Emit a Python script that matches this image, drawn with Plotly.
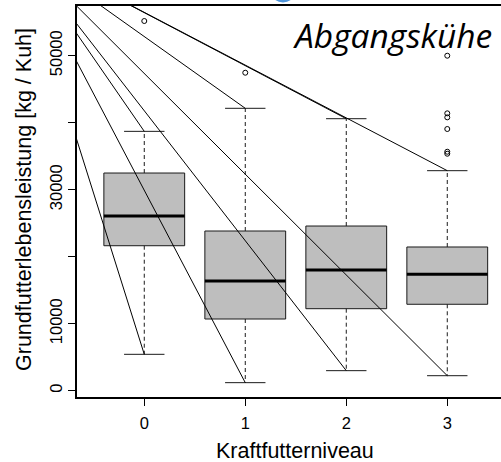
import plotly.graph_objects as go

# Boxplot statistics per concentrate level (kg forage lifetime yield per cow)
levels = [0, 1, 2, 3]
level_labels = ["0", "1", "2", "3"]
q1 = [21640, 10700, 12240, 12900]
median = [26070, 16370, 18010, 17370]
q3 = [32490, 23835, 24580, 21450]
whisker_low = [5430, 1200, 2990, 2240]
whisker_high = [38710, 42150, 40600, 32840]

# Points beyond the whiskers
outlier_x = [0, 1, 3, 3, 3, 3, 3, 3]
outlier_y = [55180, 47460, 50000, 41400, 40800, 39060, 35670, 35370]

# Common origin of the guide lines drawn to every whisker end
apex_x = -1.275
apex_y = 66520

y_tickvals = [0, 10000, 20000, 30000, 40000, 50000]
y_ticktext = ["0", "10000", "", "30000", "", "50000"]

BOX_HALF = 0.4
CAP_HALF = 0.2
AXIS_FONT = "Liberation Sans, Arial, sans-serif"

fig = go.Figure()

# Boxes (Q1..Q3)
for x, lo, hi in zip(levels, q1, q3):
    fig.add_trace(go.Scatter(
        x=[x - BOX_HALF, x + BOX_HALF, x + BOX_HALF, x - BOX_HALF, x - BOX_HALF],
        y=[lo, lo, hi, hi, lo],
        mode="lines", fill="toself", fillcolor="#BEBEBE",
        line=dict(color="#1a1a1a", width=1), hoverinfo="skip", showlegend=False))

# Dashed whiskers
wx, wy = [], []
for x, lo, hi, wl, wh in zip(levels, q1, q3, whisker_low, whisker_high):
    wx += [x, x, None, x, x, None]
    wy += [hi, wh, None, lo, wl, None]
fig.add_trace(go.Scatter(x=wx, y=wy, mode="lines",
                         line=dict(color="#1a1a1a", width=1, dash="4px,3px"),
                         hoverinfo="skip", showlegend=False))

# Whisker caps
cx, cy = [], []
for x, wl, wh in zip(levels, whisker_low, whisker_high):
    cx += [x - CAP_HALF, x + CAP_HALF, None, x - CAP_HALF, x + CAP_HALF, None]
    cy += [wh, wh, None, wl, wl, None]
fig.add_trace(go.Scatter(x=cx, y=cy, mode="lines",
                         line=dict(color="#1a1a1a", width=1),
                         hoverinfo="skip", showlegend=False))

# Medians
mx, my = [], []
for x, m in zip(levels, median):
    mx += [x - BOX_HALF, x + BOX_HALF, None]
    my += [m, m, None]
fig.add_trace(go.Scatter(x=mx, y=my, mode="lines",
                         line=dict(color="black", width=3),
                         hoverinfo="skip", showlegend=False))

# Outliers
fig.add_trace(go.Scatter(x=outlier_x, y=outlier_y, mode="markers",
                         marker=dict(symbol="circle-open", size=5,
                                     color="black", line=dict(width=1)),
                         hoverinfo="skip", showlegend=False))

# Guide lines from the common origin to each whisker end
gx, gy = [], []
for x, wl, wh in zip(levels, whisker_low, whisker_high):
    gx += [apex_x, x, None, apex_x, x, None]
    gy += [apex_y, wl, None, apex_y, wh, None]
fig.add_trace(go.Scatter(x=gx, y=gy, mode="lines",
                         line=dict(color="black", width=1),
                         hoverinfo="skip", showlegend=False))

fig.update_layout(
    width=501, height=462,
    margin=dict(l=77, r=0, t=6, b=65, pad=0),
    paper_bgcolor="white", plot_bgcolor="white",
    font=dict(family=AXIS_FONT, color="black"),
    xaxis=dict(range=[-0.666, 3.532], tickvals=levels, ticktext=level_labels,
               ticks="outside", ticklen=7, tickcolor="black", tickwidth=1,
               ticklabelstandoff=3,
               showline=True, linecolor="black", linewidth=1.5, mirror=True,
               showgrid=False, zeroline=False,
               tickfont=dict(size=16.5, family=AXIS_FONT, color="black")),
    yaxis=dict(range=[-940, 57420], tickvals=y_tickvals, ticktext=y_ticktext,
               tickangle=-90, ticks="outside", ticklen=7, tickcolor="black",
               tickwidth=1, ticklabelstandoff=0,
               showline=True, linecolor="black", linewidth=1.5,
               mirror=False, showgrid=False, zeroline=False,
               tickfont=dict(size=16.5, family=AXIS_FONT, color="black")),
    annotations=[
        dict(text="Kraftfutterniveau", xref="paper", yref="paper",
             x=(295 - 77) / 424, y=(397 - 451) / 391,
             xanchor="center", yanchor="middle", showarrow=False,
             font=dict(size=21.5, family=AXIS_FONT, color="black")),
        dict(text="Grundfutterlebensleistung [kg / Kuh]", xref="paper", yref="paper",
             x=(24 - 77) / 424, y=(397 - 200) / 391, textangle=-90,
             xanchor="center", yanchor="middle", showarrow=False,
             font=dict(size=21.5, family=AXIS_FONT, color="black")),
        dict(text="<i>Abgangskühe</i>", xref="paper", yref="paper",
             x=(494 - 77) / 424, y=(397 - 35) / 391,
             xanchor="right", yanchor="middle", showarrow=False,
             font=dict(size=33.5, family="Open Sans, sans-serif", color="black")),
    ],
    shapes=[
        dict(type="circle", xref="paper", yref="paper", layer="above",
             x0=(270 - 77) / 424, x1=(296 - 77) / 424,
             y0=(397 - 2.5) / 391, y1=(397 + 23.5) / 391,
             fillcolor="#4F95DA", line=dict(width=0)),
    ],
)

fig.write_html("out.html")
